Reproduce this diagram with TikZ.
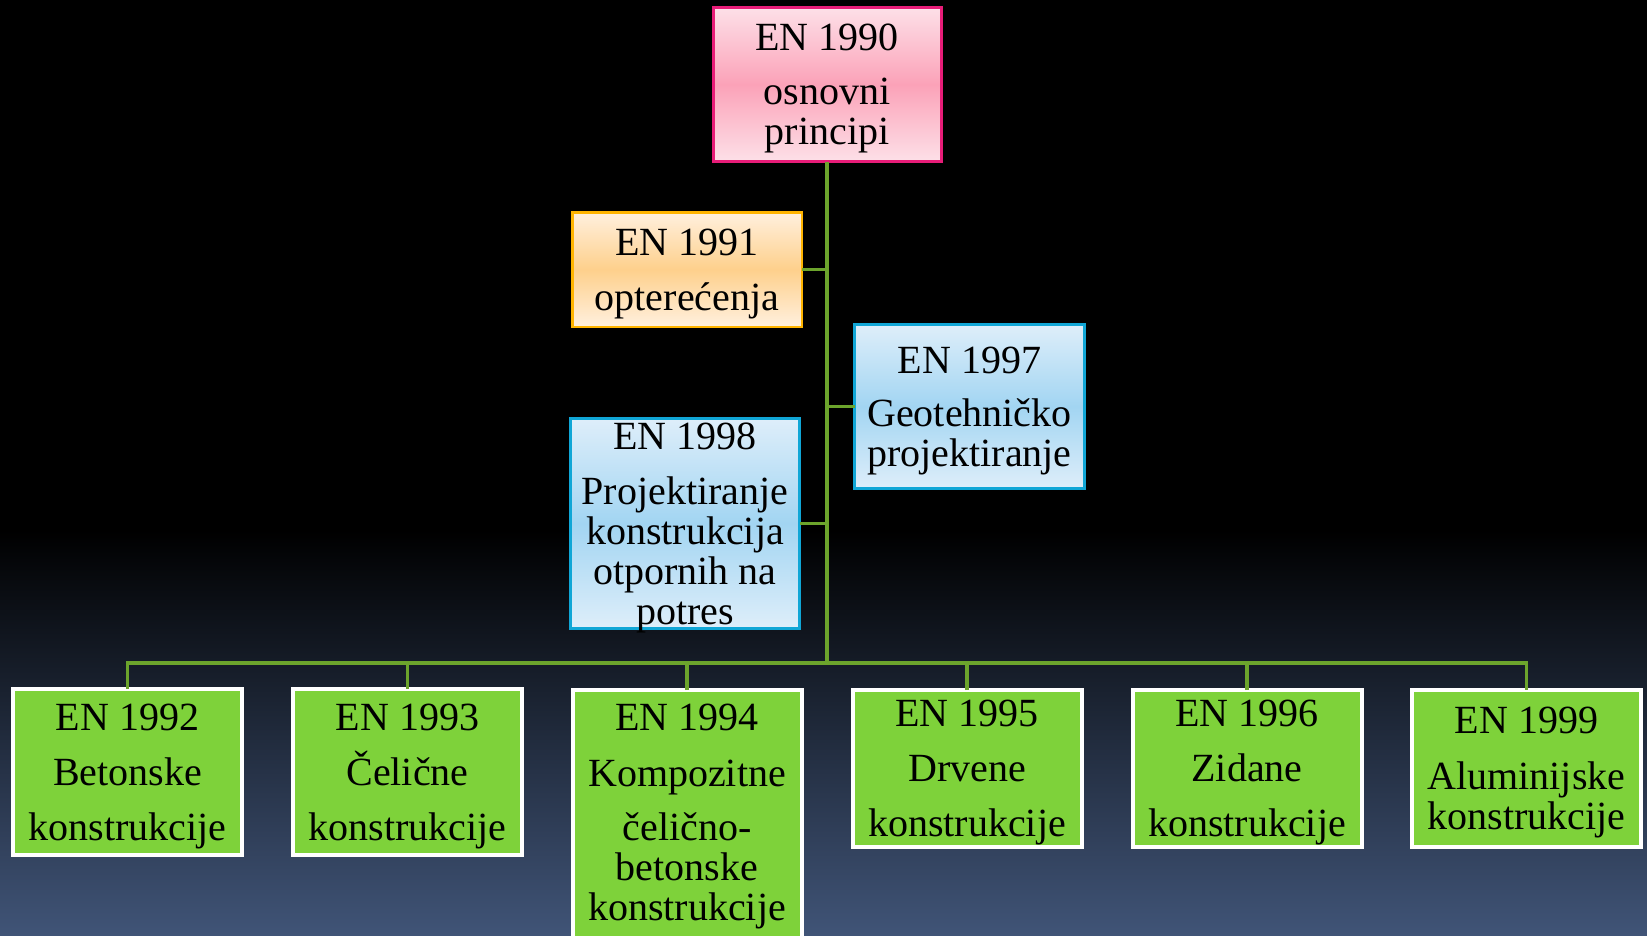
\documentclass[tikz,border=0pt]{standalone}
\usepackage{fontspec}
\setmainfont{Liberation Serif}
\definecolor{pinkB}{RGB}{232,28,120}
\definecolor{pinkT}{RGB}{253,224,232}
\definecolor{pinkM}{RGB}{251,162,184}
\definecolor{orB}{RGB}{255,180,0}
\definecolor{orT}{RGB}{255,240,222}
\definecolor{orM}{RGB}{254,208,140}
\definecolor{blB}{RGB}{16,166,214}
\definecolor{blT}{RGB}{222,238,250}
\definecolor{blM}{RGB}{162,213,242}
\definecolor{grF}{RGB}{126,210,58}
\definecolor{lineG}{RGB}{108,164,44}
\definecolor{bgB}{RGB}{64,84,119}
\newcommand{\mytopstrut}{\rule{0pt}{35pt}}
\newcommand{\mysmallstrut}{\rule{0pt}{31pt}}
\tikzset{
  basebox/.style={inner sep=0pt, outer sep=0pt, align=center, text=black,
    font=\fontsize{40}{40}\selectfont},
  pinkbox/.style={basebox, draw=pinkB, line width=3pt, top color=pinkT, bottom color=pinkT, middle color=pinkM},
  orbox/.style={basebox, draw=orB, line width=2.5pt, top color=orT, bottom color=orT, middle color=orM},
  blbox/.style={basebox, draw=blB, line width=3pt, top color=blT, bottom color=blT, middle color=blM},
  grbox/.style={basebox, draw=white, line width=4pt, fill=grF, minimum width=229pt},
  conn/.style={draw=lineG, line width=3.5pt}
}
\begin{document}
\begin{tikzpicture}[x=1pt,y=-1pt]
\useasboundingbox (0,0) rectangle (1647,935);
\begin{scope}
\clip (0,0) rectangle (1647,935);
\fill[black] (0,0) rectangle (1647,935);
\shade[top color=black, bottom color=bgB] (0,530) rectangle (1647,935);

\node[pinkbox, minimum width=228pt, minimum height=154pt] (b90) at (827,84.5) {\mytopstrut EN 1990\\[14pt]osnovni\\principi};
\node[orbox, minimum width=229.5pt, minimum height=114.5pt] (b91) at (687,269.5) {\mytopstrut EN 1991\\[15pt]opterećenja};
\node[blbox, minimum width=230pt, minimum height=164pt] (b97) at (969.5,406.5) {\mytopstrut EN 1997\\[13pt]Geotehničko\\projektiranje};
\node[blbox, inner ysep=-8pt, minimum width=229pt, minimum height=210pt] (b98) at (685,523.5) {\mytopstrut EN 1998\\[15pt]Projektiranje\\konstrukcija\\otpornih na\\potres};

\node[grbox, minimum height=166pt] (b92) at (127.5,772) {\mytopstrut EN 1992\\[15pt]Betonske\\[15pt]konstrukcije};
\node[grbox, minimum height=166pt] (b93) at (407.5,772) {\mytopstrut EN 1993\\[15pt]Čelične\\[15pt]konstrukcije};
\node[grbox, minimum height=249pt] (b94) at (687,814.5) {\mysmallstrut EN 1994\\[16pt]Kompozitne\\[14pt]čelično-\\betonske\\konstrukcije};
\node[grbox, minimum height=157pt] (b95) at (967,768.5) {\mytopstrut EN 1995\\[15pt]Drvene\\[15pt]konstrukcije};
\node[grbox, minimum height=157pt] (b96) at (1247,768.5) {\mytopstrut EN 1996\\[15pt]Zidane\\[15pt]konstrukcije};
\node[grbox, minimum height=157pt] (b99) at (1526.5,768.5) {\mytopstrut EN 1999\\[16pt]Aluminijske\\konstrukcije};

\coordinate (bar) at (827,663);
\draw[conn] (b90.south) -- (bar);
\draw[conn] (b91.east) -- (b91.east -| bar);
\draw[conn] (b97.west) -- (b97.west -| bar);
\draw[conn] (b98.east) -- (b98.east -| bar);
\draw[conn] (b92.north) |- (bar) -| (b99.north);
\draw[conn] (b93.north) -- (b93.north |- bar);
\draw[conn] (b94.north) -- (b94.north |- bar);
\draw[conn] (b95.north) -- (b95.north |- bar);
\draw[conn] (b96.north) -- (b96.north |- bar);
\end{scope}
\end{tikzpicture}
\end{document}
